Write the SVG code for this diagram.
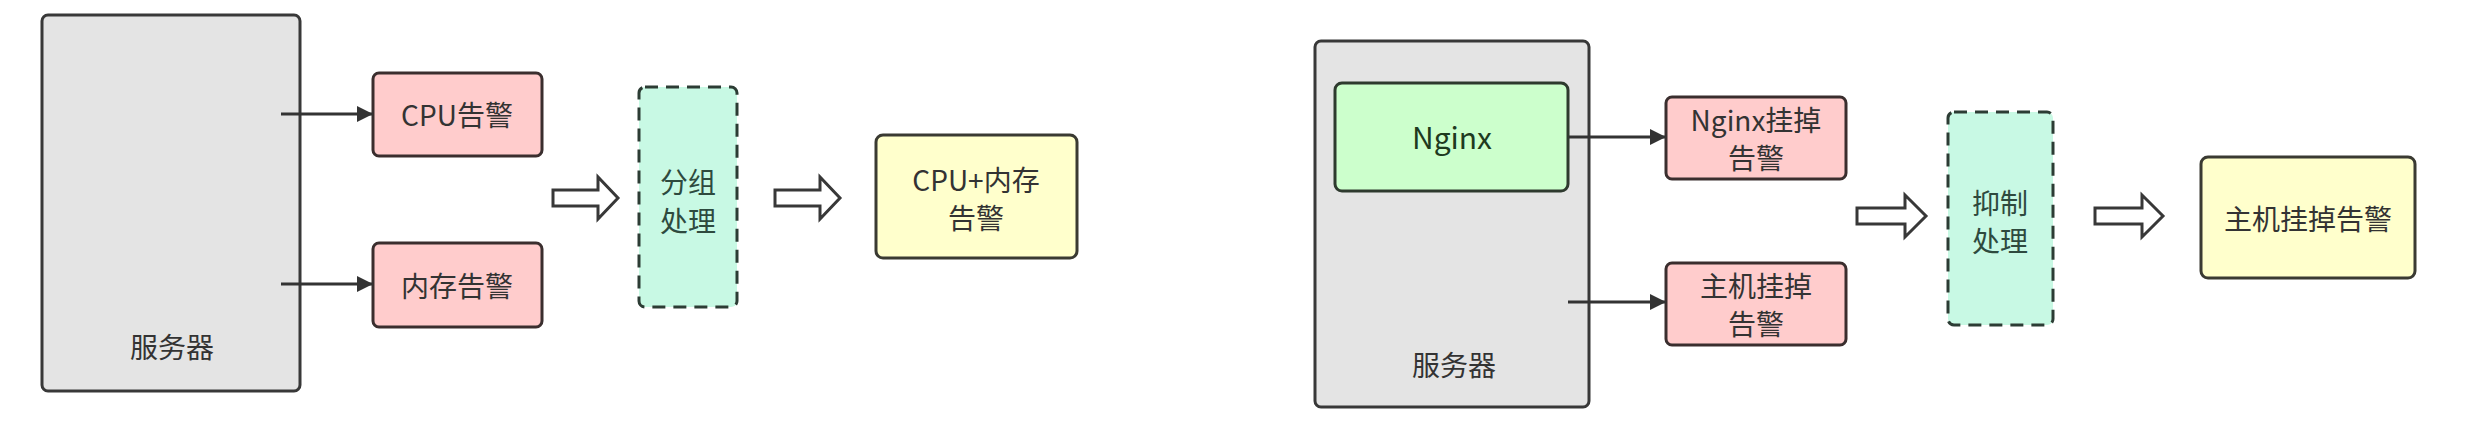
<svg xmlns="http://www.w3.org/2000/svg" width="2478" height="440" viewBox="0 0 2478 440">
<defs>
<style>
.srv{fill:#e4e4e4;stroke:#383838;stroke-width:3}
.pink{fill:#ffcccc;stroke:#3a2e2e;stroke-width:3}
.green{fill:#ccffcc;stroke:#2e3a2e;stroke-width:3}
.mint{fill:#c8f9e4;stroke:#2c3c34;stroke-width:3;stroke-dasharray:13 8}
.yellow{fill:#ffffcc;stroke:#3a3a32;stroke-width:3}
.hollow{fill:#ffffff;stroke:#383838;stroke-width:3;stroke-linejoin:miter}
.conn{stroke:#333333;stroke-width:3;fill:none}
text{font-family:"Noto Sans CJK SC","Microsoft YaHei","Noto Sans",sans-serif;font-size:28px;fill:#333333;text-anchor:middle;dominant-baseline:central}
.ng{fill:#1e3a1e;font-size:30px}
.proc{fill:#2e4a3e}
</style>
<marker id="ah" markerUnits="userSpaceOnUse" markerWidth="18" markerHeight="16" refX="16" refY="8" orient="auto">
<path d="M0,0 L16,8 L0,16 Z" fill="#333333"/>
</marker>
</defs>

<!-- Left diagram -->
<g id="server-left">
<rect class="srv" x="42" y="15" width="258" height="376" rx="6"/>
<text x="172" y="346">服务器</text>
</g>
<g id="cpu-alert">
<rect class="pink" x="373" y="73" width="169" height="83" rx="6"/>
<text x="457" y="114">CPU告警</text>
</g>
<g id="mem-alert">
<rect class="pink" x="373" y="243" width="169" height="84" rx="6"/>
<text x="457" y="285">内存告警</text>
</g>
<g id="group-proc">
<rect class="mint" x="639" y="87" width="98" height="220" rx="6"/>
<text class="proc" x="688" y="181">分组</text>
<text class="proc" x="688" y="220">处理</text>
</g>
<g id="cpu-mem-alert">
<rect class="yellow" x="876" y="135" width="201" height="123" rx="7"/>
<text x="976" y="179">CPU+内存</text>
<text x="976" y="217">告警</text>
</g>

<!-- Right diagram -->
<g id="server-right">
<rect class="srv" x="1315" y="41" width="274" height="366" rx="6"/>
<text x="1454" y="364">服务器</text>
</g>
<g id="nginx">
<rect class="green" x="1335" y="83" width="233" height="108" rx="7"/>
<text class="ng" x="1452" y="136">Nginx</text>
</g>
<g id="nginx-alert">
<rect class="pink" x="1666" y="97" width="180" height="82" rx="6"/>
<text x="1756" y="119">Nginx挂掉</text>
<text x="1756" y="157">告警</text>
</g>
<g id="host-alert">
<rect class="pink" x="1666" y="263" width="180" height="82" rx="6"/>
<text x="1756" y="285">主机挂掉</text>
<text x="1756" y="323">告警</text>
</g>
<g id="inhibit-proc">
<rect class="mint" x="1948" y="112" width="105" height="213" rx="6"/>
<text class="proc" x="2000" y="202">抑制</text>
<text class="proc" x="2000" y="240">处理</text>
</g>
<g id="host-final">
<rect class="yellow" x="2201" y="157" width="214" height="121" rx="7"/>
<text x="2308" y="218">主机挂掉告警</text>
</g>

<g id="connectors">
<line class="conn" x1="281" y1="114" x2="373" y2="114" marker-end="url(#ah)"/>
<line class="conn" x1="281" y1="284" x2="373" y2="284" marker-end="url(#ah)"/>
<line class="conn" x1="1568" y1="137" x2="1666" y2="137" marker-end="url(#ah)"/>
<line class="conn" x1="1568" y1="302" x2="1666" y2="302" marker-end="url(#ah)"/>
<path class="hollow" d="M553,190 H598 V177 L618,198 L598,219 V206 H553 Z"/>
<path class="hollow" d="M775,190 H820 V177 L840,198 L820,219 V206 H775 Z"/>
<path class="hollow" d="M1857,208 H1905 V195 L1926,216 L1905,237 V224 H1857 Z"/>
<path class="hollow" d="M2095,208 H2142 V195 L2163,216 L2142,237 V224 H2095 Z"/>
</g>
</svg>
